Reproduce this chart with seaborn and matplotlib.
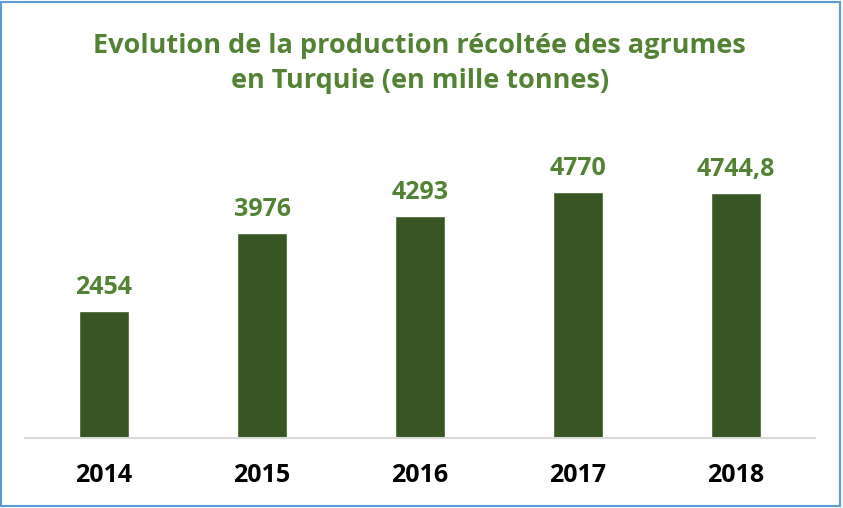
import matplotlib
matplotlib.use('Agg')
import matplotlib.pyplot as plt
import seaborn as sns
import pandas as pd
from matplotlib.patches import Rectangle

# data
years = ['2014', '2015', '2016', '2017', '2018']
production = [2454, 3976, 4293, 4770, 4744.8]
value_labels = ['2454', '3976', '4293', '4770', '4744,8']

df = pd.DataFrame({'annee': years, 'production': production})

sns.set_theme(style='white')
plt.rcParams['font.family'] = ['Open Sans', 'DejaVu Sans']

fig = plt.figure(figsize=(8.43, 5.08), dpi=100)
ax = fig.add_axes([0.0297, 0.1378, 0.937, 0.600])

sns.barplot(data=df, x='annee', y='production', color='#375623',
            width=0.32, saturation=1, ax=ax)

ax.set_xlim(-0.5, 4.5)
ax.set_ylim(0, 5900)

for i, (v, lab) in enumerate(zip(production, value_labels)):
    ax.annotate(lab, (i, v), xytext=(0, 11), textcoords='offset pixels',
                ha='center', va='bottom', fontsize=18, fontweight='bold',
                color='#548235')

ax.set_xlabel('')
ax.set_ylabel('')
ax.set_yticks([])
ax.tick_params(axis='x', length=0, pad=18)
for t in ax.get_xticklabels():
    t.set_fontsize(18)
    t.set_fontweight('bold')
    t.set_color('black')

sns.despine(ax=ax, left=True, top=True, right=True)
ax.spines['bottom'].set_color('#D9D9D9')
ax.spines['bottom'].set_linewidth(1.5)

fig.suptitle('Evolution de la production récoltée des agrumes\nen Turquie (en mille tonnes)',
             x=0.498, y=0.935, fontsize=19.5, fontweight='bold', color='#548235',
             linespacing=1.45)

# light blue frame around the chart
fig.patches.append(Rectangle((0.001, 0.003), 0.996, 0.994, transform=fig.transFigure,
                             fill=False, edgecolor='#5B9BD5', linewidth=1.5))

fig.savefig('out.png', dpi=100)
